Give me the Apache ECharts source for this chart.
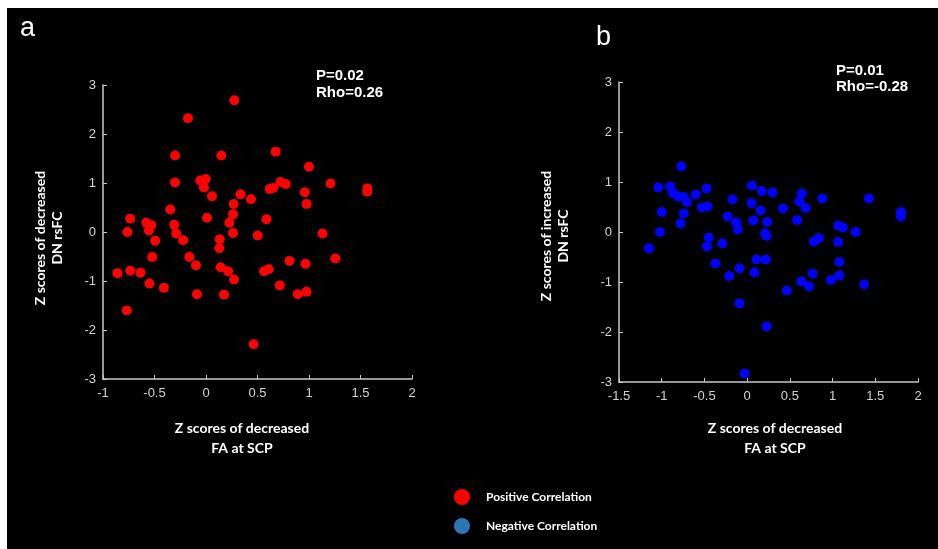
<!DOCTYPE html>
<html>
<head>
<meta charset="utf-8">
<script src="https://cdn.jsdelivr.net/npm/echarts@6/dist/echarts.min.js"></script>
<style>html,body{margin:0;padding:0;background:#fff;}#c{width:938px;height:549px;}</style>
</head>
<body>
<div id="c"></div>
<script>
// Panel a: positive correlation
const leftX = [0.275,-0.175,-0.30,0.149,0.677,1.00,-0.30,-0.055,-0.003,-0.02,0.058,0.334,0.437,0.619,0.652,0.723,0.775,1.209,1.566,1.566,0.96,0.976,0.269,0.262,0.227,0.587,0.01,-0.347,-0.308,-0.736,-0.58,-0.532,-0.555,-0.763,-0.289,0.262,0.502,1.131,-0.493,-0.221,0.133,0.13,-0.522,-0.162,-0.097,0.142,0.214,0.272,-0.86,-0.736,-0.636,-0.549,-0.409,-0.088,0.175,-0.769,0.463,0.564,0.609,0.716,0.81,0.966,0.891,0.976,1.255];
const leftY = [2.69,2.32,1.56,1.56,1.64,1.33,1.01,1.05,1.08,0.91,0.73,0.77,0.67,0.88,0.90,1.02,0.98,0.99,0.89,0.82,0.81,0.57,0.57,0.36,0.19,0.26,0.29,0.46,0.15,0.27,0.19,0.14,0.03,0.0,-0.03,-0.02,-0.07,-0.03,-0.18,-0.17,-0.15,-0.33,-0.51,-0.51,-0.68,-0.72,-0.80,-0.97,-0.84,-0.79,-0.83,-1.05,-1.14,-1.27,-1.28,-1.60,-2.29,-0.80,-0.76,-1.09,-0.59,-0.65,-1.27,-1.22,-0.54];
// Panel b: negative correlation
const rightX = [-0.77,-1.04,-0.90,-0.87,-0.81,-0.74,-0.705,-0.60,-0.475,-0.53,-0.464,-1.0,-0.74,-0.78,-1.02,0.056,0.17,0.297,-0.173,0.052,0.42,0.64,0.61,0.685,0.88,1.424,1.80,1.80,-0.227,0.157,0.072,0.235,-0.13,-0.11,0.585,1.066,1.12,1.27,-1.15,-0.45,-0.47,-0.29,-0.37,-0.21,-0.09,0.084,0.11,0.22,0.21,0.227,-0.09,0.227,-0.03,0.464,0.635,0.725,0.767,0.78,0.84,0.98,1.066,1.08,1.08,1.37];
const rightY = [1.31,0.89,0.91,0.78,0.71,0.70,0.60,0.75,0.87,0.49,0.51,0.40,0.37,0.17,0.0,0.93,0.82,0.79,0.65,0.58,0.47,0.77,0.61,0.48,0.67,0.67,0.40,0.31,0.31,0.43,0.23,0.20,0.19,0.05,0.24,0.13,0.09,0.0,-0.33,-0.11,-0.29,-0.23,-0.63,-0.88,-0.73,-0.81,-0.55,-0.55,-0.03,-0.08,-1.43,-1.89,-2.83,-1.17,-0.99,-1.09,-0.83,-0.19,-0.12,-0.96,-0.20,-0.60,-0.87,-1.05];
const leftXTicks = {min: -1, max: 2, interval: 0.5};
const rightXTicks = {min: -1.5, max: 2, interval: 0.5};
const yTicks = {min: -3, max: 3, interval: 1};
const statsA = ['P=0.02', 'Rho=0.26'];
const statsB = ['P=0.01', 'Rho=-0.28'];
const seriesNames = ['Positive Correlation', 'Negative Correlation'];

const zip = (xs, ys) => xs.map((x, i) => [x, ys[i]]);
const axisCol = '#c8c8c8';
const tickFont = {color: '#d4d4d4', fontSize: 13, fontFamily: 'Liberation Sans, Arial, sans-serif'};
function xAxis(idx, t) {
  return {type: 'value', gridIndex: idx, min: t.min, max: t.max, interval: t.interval,
    axisLine: {show: true, onZero: false, lineStyle: {color: axisCol, width: 1.5}},
    axisTick: {show: true, inside: true, length: 4, lineStyle: {color: axisCol}},
    splitLine: {show: false},
    axisLabel: Object.assign({margin: 8}, tickFont)};
}
function yAxis(idx) {
  return {type: 'value', gridIndex: idx, min: yTicks.min, max: yTicks.max, interval: yTicks.interval,
    axisLine: {show: true, onZero: false, lineStyle: {color: axisCol, width: 1.5}},
    axisTick: {show: true, inside: true, length: 4, lineStyle: {color: axisCol}},
    splitLine: {show: false},
    axisLabel: Object.assign({margin: 7}, tickFont)};
}
const titleFont = {fill: '#ffffff', fontSize: 14, fontWeight: 'bold', fontFamily: 'Lato, sans-serif'};
const statFont = {fill: '#ffffff', fontSize: 15, fontWeight: 'bold', fontFamily: 'Liberation Sans, Arial, sans-serif'};

const chart = echarts.init(document.getElementById('c'), null, {renderer: 'canvas'});
chart.setOption({
  backgroundColor: '#000000',
  animation: false,
  grid: [
    {left: 103, top: 85, width: 309, height: 294},
    {left: 619, top: 82, width: 299, height: 300}
  ],
  xAxis: [xAxis(0, leftXTicks), xAxis(1, rightXTicks)],
  yAxis: [yAxis(0), yAxis(1)],
  legend: {
    orient: 'vertical', left: 449, top: 484, itemWidth: 16, itemHeight: 16, itemGap: 13,
    icon: 'circle', selectedMode: false,
    textStyle: {color: '#ffffff', fontSize: 12, fontWeight: 'bold', fontFamily: 'Lato, sans-serif', padding: [0, 0, 3, 11]},
    data: [
      {name: seriesNames[0], itemStyle: {color: '#ff0000'}},
      {name: seriesNames[1], itemStyle: {color: '#2e75b6'}}
    ]
  },
  series: [
    {name: seriesNames[0], type: 'scatter', xAxisIndex: 0, yAxisIndex: 0, symbolSize: 10,
      itemStyle: {color: '#ff0000', opacity: 1}, data: zip(leftX, leftY)},
    {name: seriesNames[1], type: 'scatter', xAxisIndex: 1, yAxisIndex: 1, symbolSize: 10,
      itemStyle: {color: '#0000ff', opacity: 1}, data: zip(rightX, rightY)}
  ],
  graphic: [
    {type: 'rect', left: 0, top: 0, shape: {width: 938, height: 8}, style: {fill: '#ffffff'}, silent: true},
    {type: 'rect', left: 0, top: 0, shape: {width: 7, height: 549}, style: {fill: '#ffffff'}, silent: true},
    {type: 'text', x: 20, y: 42, style: {text: 'a', fill: '#ffffff', fontSize: 27, fontFamily: 'Liberation Sans, Arial, sans-serif', textVerticalAlign: 'bottom'}},
    {type: 'text', x: 596, y: 51, style: {text: 'b', fill: '#ffffff', fontSize: 27, fontFamily: 'Liberation Sans, Arial, sans-serif', textVerticalAlign: 'bottom'}},
    {type: 'text', x: 316, y: 84, style: Object.assign({text: statsA.join('\n'), lineHeight: 17, textVerticalAlign: 'middle'}, statFont)},
    {type: 'text', x: 836, y: 78.5, style: Object.assign({text: statsB.join('\n'), lineHeight: 16, textVerticalAlign: 'middle'}, statFont)},
    {type: 'text', x: 49, y: 238, rotation: Math.PI / 2, style: Object.assign({text: 'Z scores of decreased\nDN rsFC', lineHeight: 17, textAlign: 'center', textVerticalAlign: 'middle'}, titleFont)},
    {type: 'text', x: 555, y: 236, rotation: Math.PI / 2, style: Object.assign({text: 'Z scores of increased\nDN rsFC', lineHeight: 17, textAlign: 'center', textVerticalAlign: 'middle'}, titleFont)},
    {type: 'text', x: 242, y: 438, style: Object.assign({text: 'Z scores of decreased\nFA at SCP', lineHeight: 20, textAlign: 'center', textVerticalAlign: 'middle'}, titleFont)},
    {type: 'text', x: 775, y: 438, style: Object.assign({text: 'Z scores of decreased\nFA at SCP', lineHeight: 20, textAlign: 'center', textVerticalAlign: 'middle'}, titleFont)}
  ]
});
</script>
</body>
</html>
